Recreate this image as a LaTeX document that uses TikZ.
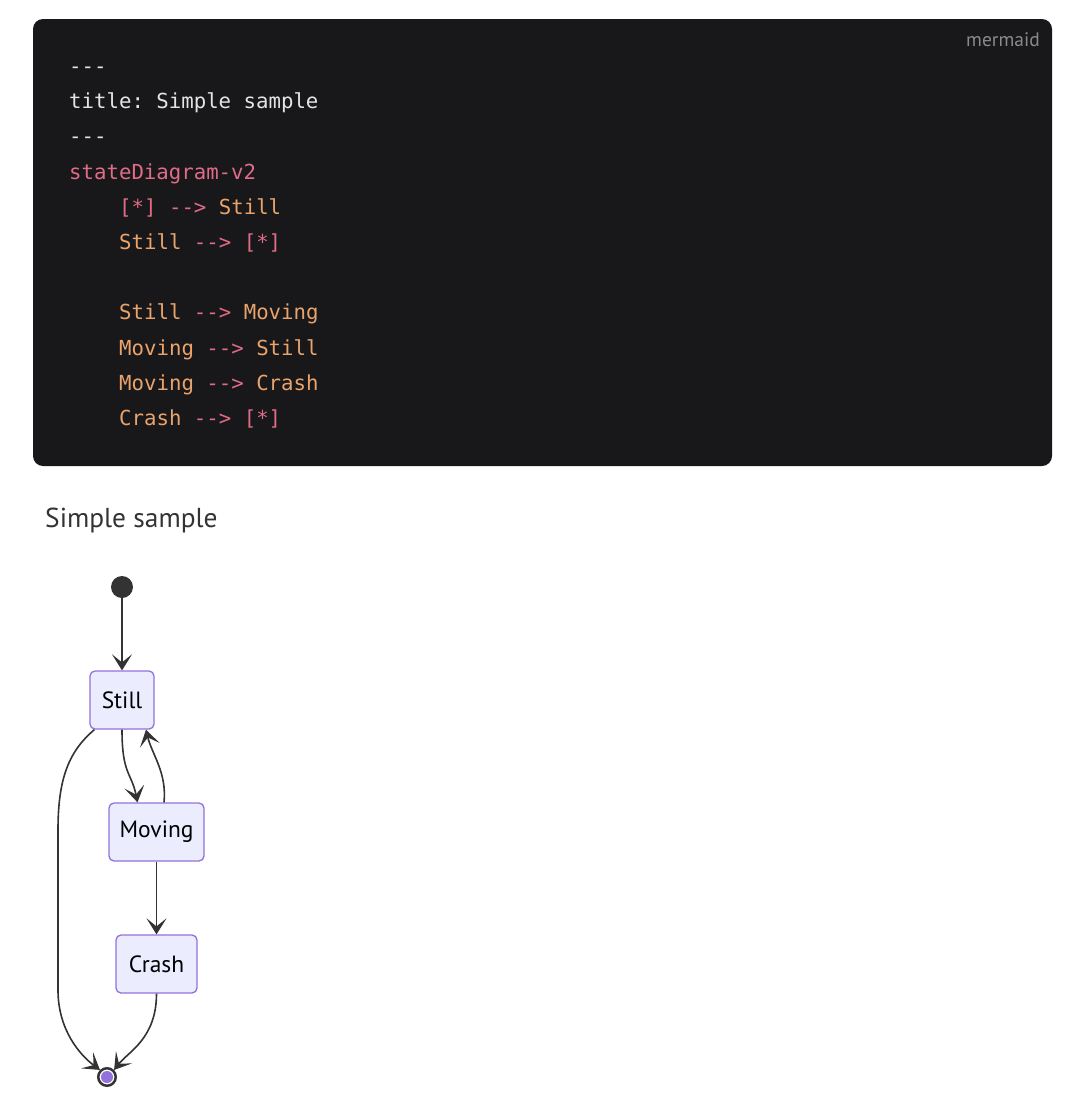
\documentclass[tikz,border=0pt]{standalone}
\usepackage{fontspec}
\setmonofont{DejaVu Sans Mono}
\setsansfont{PT Sans}
\usetikzlibrary{arrows.meta,positioning}
\definecolor{codebg}{HTML}{18181B}
\definecolor{codefg}{HTML}{E4E4E7}
\definecolor{codepink}{HTML}{E06C86}
\definecolor{codeorange}{HTML}{E9A36B}
\definecolor{tagfg}{HTML}{8A8A8A}
\definecolor{boxfill}{HTML}{ECECFF}
\definecolor{boxline}{HTML}{9370DB}
\definecolor{ink}{HTML}{333333}
\newcommand{\pk}[1]{\textcolor{codepink}{#1}}
\newcommand{\og}[1]{\textcolor{codeorange}{#1}}
\begin{document}
\begin{tikzpicture}[
        x=1pt, y=-1pt,
        codeline/.style={anchor=base west, inner sep=0pt, text=codefg,
            font=\ttfamily\fontsize{20.7}{24}\selectfont},
        state/.style={draw=boxline, fill=boxfill, line width=1.3pt,
            rounded corners=5pt, inner sep=0pt, text=black,
            font=\sffamily\fontsize{23.5}{28}\selectfont},
        edge/.style={draw=ink, line width=1.6pt,
            -{Stealth[length=16pt, width=20pt, inset=8pt]}}
    ]
    \useasboundingbox (0,0) rectangle (1080,1101);

    \fill[codebg, rounded corners=10pt] (33,19) rectangle (1052,466);
    \node[
        anchor=base east,
        inner sep=0pt,
        text=tagfg,
        font=\sffamily\fontsize{19.5}{22}\selectfont,
        name=tag
    ] at (1040,46) {mermaid};

    \node[codeline, name=l1] at (69,73.5) {---};
    \node[codeline, name=l2] at (69,108.7) {title: Simple sample};
    \node[codeline, name=l3] at (69,143.9) {---};
    \node[codeline, name=l4] at (69,179.1) {\pk{stateDiagram-v2}};
    \node[codeline, name=l5] at (119,214.3) {\pk{[*] -->} \og{Still}};
    \node[codeline, name=l6] at (119,249.5) {\og{Still} \pk{--> [*]}};
    \node[codeline, name=l7] at (119,319.9) {\og{Still} \pk{-->} \og{Moving}};
    \node[codeline, name=l8] at (119,355.1) {\og{Moving} \pk{-->} \og{Still}};
    \node[codeline, name=l9] at (119,390.3) {\og{Moving} \pk{-->} \og{Crash}};
    \node[codeline, name=l10] at (119,425.5) {\og{Crash} \pk{--> [*]}};

    \node[
        anchor=base west,
        inner sep=0pt,
        text=ink,
        font=\sffamily\fontsize{27.4}{32}\selectfont,
        name=title
    ] at (45,527) {Simple sample};

    \node[
        circle,
        fill=ink,
        minimum size=22pt,
        inner sep=0pt,
        name=start
    ] at (122,587) {};
    \node[
        state,
        minimum width=64pt,
        minimum height=58pt,
        name=still
    ] at (122,700) {Still};
    \node[
        state,
        minimum width=95pt,
        minimum height=58pt,
        name=moving
    ] at (156.5,832) {Moving};
    \node[
        state,
        minimum width=81pt,
        minimum height=58pt,
        name=crash
    ] at (156.5,964) {Crash};
    \node[
        circle,
        draw=ink,
        fill=white,
        line width=2.5pt,
        minimum size=17.5pt,
        inner sep=0pt,
        name=stop
    ] at (107,1077) {};
    \fill[boxline] (stop.center) circle (6pt);

    \draw[edge] (start) -- (still);
    \draw[edge] (still.south) .. controls +(0,45) and +(-6,-30) .. ([xshift=-19pt]moving.north);
    \draw[edge] ([xshift=7.5pt]moving.north) .. controls +(3,-30) and +(6,25) .. ([xshift=24pt]still.south);
    \draw[edge] (moving) -- (crash);
    \draw[edge] ([xshift=5pt]still.south west) .. controls (68,752) and (58,780) .. (58,830)
        -- (58,990) .. controls (58,1030) and (80,1055) .. (stop.north west);
    \draw[edge] (crash.south) .. controls +(0,45) and +(14,-18) .. (stop.north east);
\end{tikzpicture}
\end{document}
